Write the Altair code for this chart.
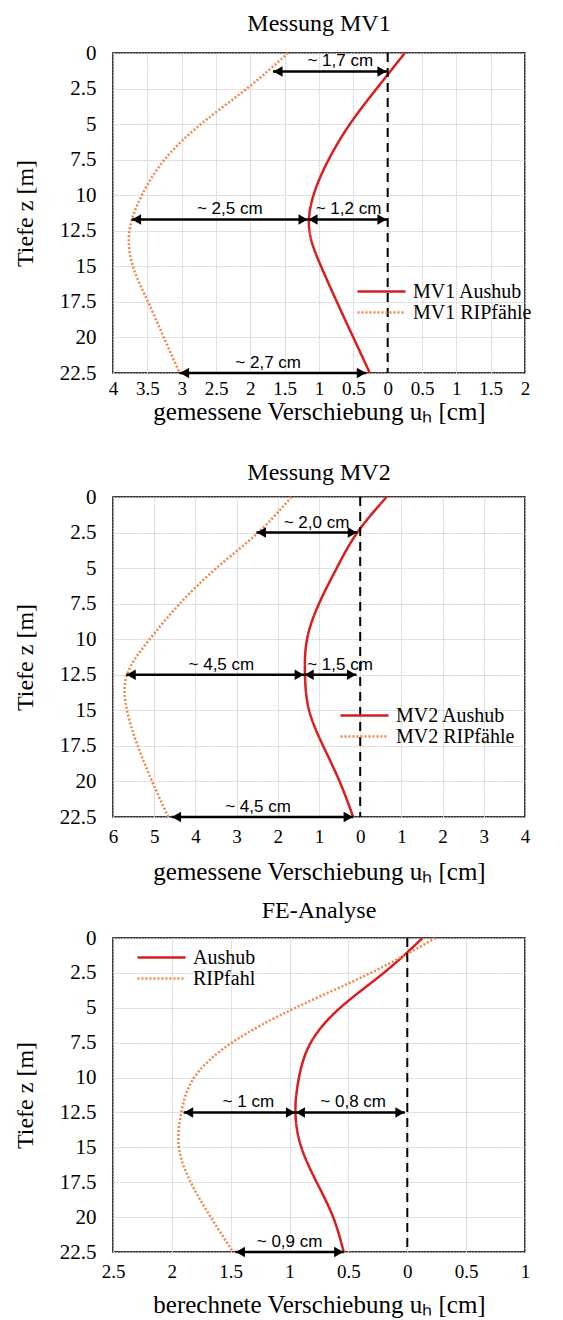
import altair as alt
import pandas as pd

RED = "#d81e1e"
ORANGE = "#f0874a"
Z_TICKS = [0, 2.5, 5, 7.5, 10, 12.5, 15, 17.5, 20, 22.5]
DEPTH = [0, 2.5, 5, 7.5, 10, 12.5, 15, 17.5, 20, 22.5]

# --- Messung MV1 ---
MV1_NAMES = ["MV1 Aushub", "MV1 RIPfähle"]
MV1_AUSHUB = [0.25, -0.16, -0.55, -0.86, -1.08, -1.14, -0.97, -0.74, -0.50, -0.26]
MV1_RIP = [-1.45, -2.05, -2.72, -3.25, -3.58, -3.76, -3.71, -3.49, -3.26, -3.03]
MV1_XTICKS = [-4, -3.5, -3, -2.5, -2, -1.5, -1, -0.5, 0, 0.5, 1, 1.5, 2]
MV1_AR_Z = [1.3, 11.7, 11.7, 22.5]
MV1_AR_X1 = [-1.67, -3.73, -1.16, -3.03]
MV1_AR_X2 = [-0.01, -1.16, -0.01, -0.31]
MV1_LAB = ["~ 1,7 cm", "~ 2,5 cm", "~ 1,2 cm", "~ 2,7 cm"]
MV1_LAB_X = [-0.69, -2.30, -0.57, -1.74]

# --- Messung MV2 ---
MV2_NAMES = ["MV2 Aushub", "MV2 RIPfähle"]
MV2_AUSHUB = [0.64, -0.07, -0.57, -1.00, -1.29, -1.34, -1.24, -0.90, -0.50, -0.17]
MV2_RIP = [-1.67, -2.48, -3.49, -4.38, -5.11, -5.66, -5.66, -5.40, -5.05, -4.66]
MV2_XTICKS = [-6, -5, -4, -3, -2, -1, 0, 1, 2, 3, 4]
MV2_AR_Z = [2.5, 12.5, 12.5, 22.5]
MV2_AR_X1 = [-2.52, -5.68, -1.36, -4.58]
MV2_AR_X2 = [-0.07, -1.36, -0.09, -0.17]
MV2_LAB = ["~ 2,0 cm", "~ 4,5 cm", "~ 1,5 cm", "~ 4,5 cm"]
MV2_LAB_X = [-1.06, -3.37, -0.49, -2.48]

# --- FE-Analyse ---
FE_NAMES = ["Aushub", "RIPfahl"]
FE_AUSHUB = [0.13, -0.20, -0.57, -0.82, -0.92, -0.95, -0.90, -0.77, -0.63, -0.54]
FE_RIP = [0.24, -0.31, -0.95, -1.49, -1.81, -1.92, -1.94, -1.84, -1.67, -1.48]
FE_XTICKS = [-2.5, -2, -1.5, -1, -0.5, 0, 0.5, 1]
FE_AR_Z = [12.5, 12.5, 22.5]
FE_AR_X1 = [-1.90, -0.95, -1.46]
FE_AR_X2 = [-0.95, -0.02, -0.54]
FE_LAB = ["~ 1 cm", "~ 0,8 cm", "~ 0,9 cm"]
FE_LAB_X = [-1.35, -0.46, -1.0]

SERIF = "Liberation Serif"
SANS = "Liberation Sans"


def panel(title, names, aushub, rip, xticks, ar_z, ar_x1, ar_x2, lab, lab_x,
          xtitle, width, height, leg_x, leg_y, lab_pad, title_pad):
    n = len(DEPTH)
    df = pd.DataFrame({
        "z": DEPTH + DEPTH,
        "u": aushub + rip,
        "s": [names[0]] * n + [names[1]] * n,
    })
    xdom = [xticks[0], xticks[-1]]
    legend = alt.Legend(
        title=None, orient="none", legendX=leg_x, legendY=leg_y,
        symbolType="M-2.67,0H2.67", symbolSize=324, symbolStrokeWidth=2.5,
        labelFont=SERIF, labelFontSize=20, labelColor="black",
        rowPadding=0, labelOffset=21,
    )
    xaxis = alt.Axis(
        values=xticks, labelExpr="'' + abs(datum.value)", title=xtitle,
        labelPadding=lab_pad, titlePadding=title_pad, labelFlush=False,
        labelOverlap=False, tickCount=len(xticks),
    )
    yaxis = alt.Axis(
        values=Z_TICKS, labelExpr="'' + datum.value", title="Tiefe z [m]",
        labelPadding=17, titlePadding=22, labelFlush=False, labelFontSize=21,
        labelOverlap=False, tickCount=len(Z_TICKS),
    )
    xs = alt.Scale(domain=xdom, nice=False, zero=False)
    ys = alt.Scale(domain=[0, 22.5], reverse=True, nice=False, zero=False)
    X = alt.X("u:Q", scale=xs, axis=xaxis)
    Y = alt.Y("z:Q", scale=ys, axis=yaxis)

    lines = alt.Chart(df).mark_line(
        interpolate="natural", strokeWidth=2.5
    ).encode(
        x=X, y=Y, order="z:Q",
        color=alt.Color("s:N", scale=alt.Scale(domain=names, range=[RED, ORANGE]), legend=legend),
        strokeDash=alt.StrokeDash("s:N", scale=alt.Scale(domain=names, range=[[1, 0], [2, 2]]), legend=legend),
    )
    zero = alt.Chart(pd.DataFrame({"u": [0]})).mark_rule(
        color="black", strokeWidth=2, strokeDash=[9, 6]
    ).encode(x=X)
    arr = pd.DataFrame({"z": ar_z, "u": ar_x1, "u2": ar_x2})
    rules = alt.Chart(arr).mark_rule(color="black", strokeWidth=2.5).encode(
        x=X, x2="u2:Q", y=Y
    )
    left = alt.Chart(pd.DataFrame({"z": ar_z, "u": ar_x1})).mark_point(
        shape="triangle-left", filled=True, size=110, color="black", opacity=1, xOffset=5
    ).encode(x=X, y=Y)
    right = alt.Chart(pd.DataFrame({"z": ar_z, "u": ar_x2})).mark_point(
        shape="triangle-right", filled=True, size=110, color="black", opacity=1, xOffset=-5
    ).encode(x=X, y=Y)
    texts = alt.Chart(pd.DataFrame({"z": ar_z, "u": lab_x, "t": lab})).mark_text(
        font=SANS, fontSize=17, color="black", baseline="alphabetic", dy=-5
    ).encode(x=X, y=Y, text="t:N")
    return alt.layer(lines, zero, rules, left, right, texts).properties(
        title=title, width=width, height=height
    )


def ttl(text, offset, line_height=None):
    kw = dict(text=text, font=SERIF, fontSize=24, fontWeight="normal", color="black",
              offset=offset, anchor="middle", frame="group")
    if line_height is not None:
        kw["lineHeight"] = line_height
    return alt.TitleParams(**kw)


p1 = panel(ttl("Messung MV1", 6), MV1_NAMES, MV1_AUSHUB, MV1_RIP, MV1_XTICKS,
           MV1_AR_Z, MV1_AR_X1, MV1_AR_X2, MV1_LAB, MV1_LAB_X,
           "gemessene Verschiebung uₕ  [cm]", 412, 320, 258, 228, 6, 1)
p2 = panel(ttl(["", "Messung MV2"], 1, 22), MV2_NAMES, MV2_AUSHUB, MV2_RIP, MV2_XTICKS,
           MV2_AR_Z, MV2_AR_X1, MV2_AR_X2, MV2_LAB, MV2_LAB_X,
           "gemessene Verschiebung uₕ [cm]", 412, 320, 241, 208, 10, 13)
p3 = panel(ttl("FE-Analyse", 4), FE_NAMES, FE_AUSHUB, FE_RIP, FE_XTICKS,
           FE_AR_Z, FE_AR_X1, FE_AR_X2, FE_LAB, FE_LAB_X,
           "berechnete Verschiebung uₕ [cm]", 412, 314, 38, 9, 10, 11)

chart = alt.vconcat(p1, p2, p3, spacing=13).resolve_scale(
    color="independent", strokeDash="independent"
).resolve_legend(
    color="independent", strokeDash="independent"
).properties(
    padding={"left": 4, "top": 3, "right": 0, "bottom": 0}
).configure_view(
    stroke="black", strokeWidth=1.5
).configure_axis(
    grid=True, gridColor="#d2d2d2", gridWidth=1, gridDash=[2, 1],
    domain=False, ticks=False,
    labelFont=SERIF, labelFontSize=19, labelColor="black",
    titleFont=SERIF, titleFontSize=25, titleFontWeight="normal", titleColor="black",
).configure_axisY(titleFontSize=24)

chart.save("out.html", embed_options={"renderer": "svg", "actions": False})
